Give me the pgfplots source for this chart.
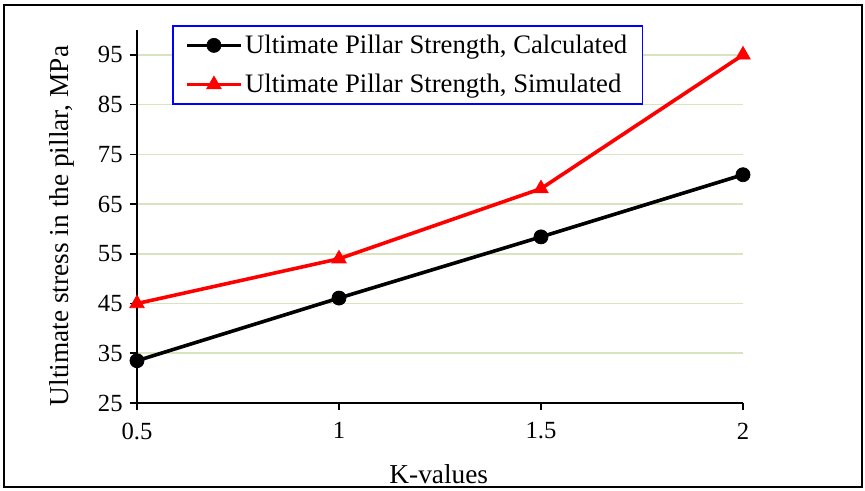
\documentclass[border=0pt]{standalone}
\usepackage{fontspec}
\setmainfont{Liberation Serif}
\usepackage{pgfplots}
\pgfplotsset{compat=1.18}
\definecolor{gridgreen}{RGB}{215,228,189}
\begin{document}
\begin{tikzpicture}
  % full page and outer frame (1px = 0.75pt)
  \path (-102.75pt,-66pt) rectangle (546pt,302.25pt);
  \draw[line width=1.5pt] (-99.75pt,-63pt) rectangle (543.75pt,298.5pt);
  \begin{axis}[
      at={(0,0)}, anchor=origin,
      scale only axis,
      width=454.5pt,
      height=279.75pt,
      xmin=0.5, xmax=2,
      ymin=25, ymax=100,
      xtick={0.5,1,1.5,2},
      ytick={25,35,...,95},
      axis x line=bottom,
      axis y line=left,
      axis line style={-, line width=1.2pt},
      tick align=outside,
      major tick length=5.25pt,
      tick style={black, line width=1.2pt},
      ymajorgrids,
      grid style={gridgreen, line width=1.2pt},
      /pgf/number format/assume math mode=true,
      ticklabel style={font=\fontsize{18.5}{20}\selectfont},
      xticklabel style={yshift=-6pt},
      yticklabel style={xshift=-2pt},
      label style={font=\fontsize{20.5}{24}\selectfont},
      xlabel={K-values},
      ylabel={Ultimate stress in the pillar, MPa},
      xlabel style={at={(axis description cs:0.498,-0.19)}, anchor=center},
      ylabel style={at={(axis description cs:-0.1238,0.4745)}, anchor=center},
      clip=false,
      legend style={
        at={(axis description cs:0.0578,1.0134)}, anchor=north west,
        draw=blue, line width=1.2pt,
        font=\fontsize{20}{24}\selectfont,
        inner xsep=9.5pt, inner ysep=5pt,
        row sep=10pt,
        legend cell align=left,
      },
      legend image code/.code={
        \draw[mark repeat=2, mark phase=2] plot coordinates {(0pt,0pt) (20pt,0pt) (40pt,0pt)};
      },
    ]
    \addplot[black, line width=2.7pt, mark=*, mark size=5.3pt,
      mark options={solid, fill=black, line width=0.5pt}] coordinates {
      (0.5, 33.5)
      (1, 46.1)
      (1.5, 58.4)
      (2, 70.9)};
    \addlegendentry{Ultimate Pillar Strength, Calculated}
    \addplot[red, line width=2.7pt, mark=triangle*, mark size=6.3pt,
      mark options={solid, fill=red, line width=0.5pt}] coordinates {
      (0.5, 45)
      (1, 54)
      (1.5, 68.1)
      (2, 95)};
    \addlegendentry{Ultimate Pillar Strength, Simulated}
  \end{axis}
\end{tikzpicture}
\end{document}
